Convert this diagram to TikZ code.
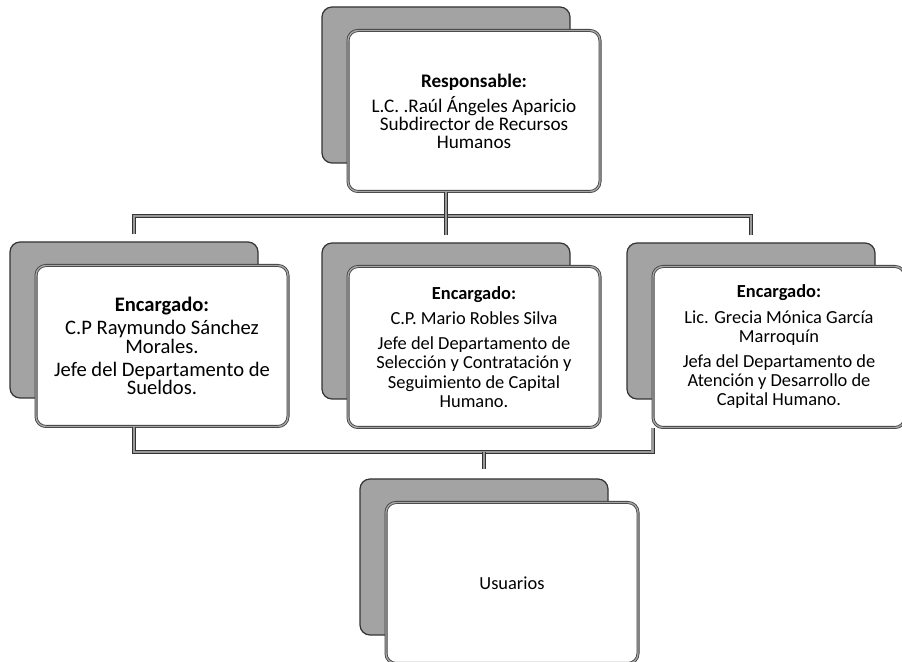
\documentclass[tikz,border=0pt]{standalone}
\usepackage{fontspec}
\setmainfont{Carlito}
\begin{document}
\begin{tikzpicture}[x=.5pt,y=-.5pt,
	backbox/.style={draw=black!80, line width=.6pt, fill=black!36, rounded corners=5pt, minimum width=124pt, minimum height=78pt},
	frontbox/.style={draw=black!75, double=black!35, double distance=.7pt, line width=.4pt, fill=white, rounded corners=5pt, minimum width=126pt, minimum height=80.5pt, align=center, font=\fontsize{9.2}{9.6}\selectfont},
	bigtext/.style={font=\fontsize{10.3}{9.2}\selectfont},
	midtext/.style={font=\fontsize{9.6}{9.0}\selectfont},
	link/.style={draw=black!80, double=black!40, double distance=1.2pt, line width=.4pt}]
		\useasboundingbox (0,0) rectangle (902,662);
		% responsable
			\node[backbox] (resp-b) at (446,85) {};
			\node[frontbox,midtext] (resp) at ([shift={(28,26)}]resp-b) {\textbf{Responsable:}\\[2pt] L.C. .Raúl Ángeles Aparicio\\ Subdirector de Recursos\\ Humanos};
		% encargados
			\node[backbox] (enc1-b) at (134,320) {};
			\node[frontbox,bigtext] (enc1) at ([shift={(28,26)}]enc1-b) {\textbf{Encargado:}\\[2.5pt] C.P Raymundo Sánchez\\ Morales.\\[2.5pt] Jefe del Departamento de\\ Sueldos.};
			\node[backbox] (enc2-b) at (446,321) {};
			\node[frontbox] (enc2) at ([shift={(28,26)}]enc2-b) {\textbf{Encargado:}\\[3pt] C.P. Mario Robles Silva\\[3pt] Jefe del Departamento de\\ Selección y Contratación y\\ Seguimiento de Capital\\ Humano.};
			\node[backbox] (enc3-b) at (751,321) {};
			\node[frontbox] (enc3) at ([shift={(28,26)}]enc3-b) {\textbf{Encargado:}\\[3pt] Lic. Grecia Mónica García\\ Marroquín\\[3pt] Jefa del Departamento de\\ Atención y Desarrollo de\\ Capital Humano.};
		% usuarios
			\node[backbox] (usu-b) at (484,557) {};
			\node[frontbox] (usu) at ([shift={(28,26)}]usu-b) {Usuarios};
		% upper connectors
			\coordinate (top-bus) at (0,216);
			\draw[link] ([yshift=3.5pt]enc1-b.north) -- (enc1-b |- top-bus) -- (enc3-b |- top-bus) -- ([yshift=3.5pt]enc3-b.north);
			\draw[link] (resp-b |- resp.south) -- ([yshift=3.5pt]enc2-b.north);
		% lower connectors
			\coordinate (low-bus) at (0,452);
			\draw[link] (enc1-b |- enc1.south) -- (enc1-b |- low-bus) -- (enc3.south west |- low-bus) -- (enc3.south west);
			\draw[link] (usu-b |- low-bus) -- ([yshift=4.5pt]usu-b.north);
	\end{tikzpicture}
\end{document}
